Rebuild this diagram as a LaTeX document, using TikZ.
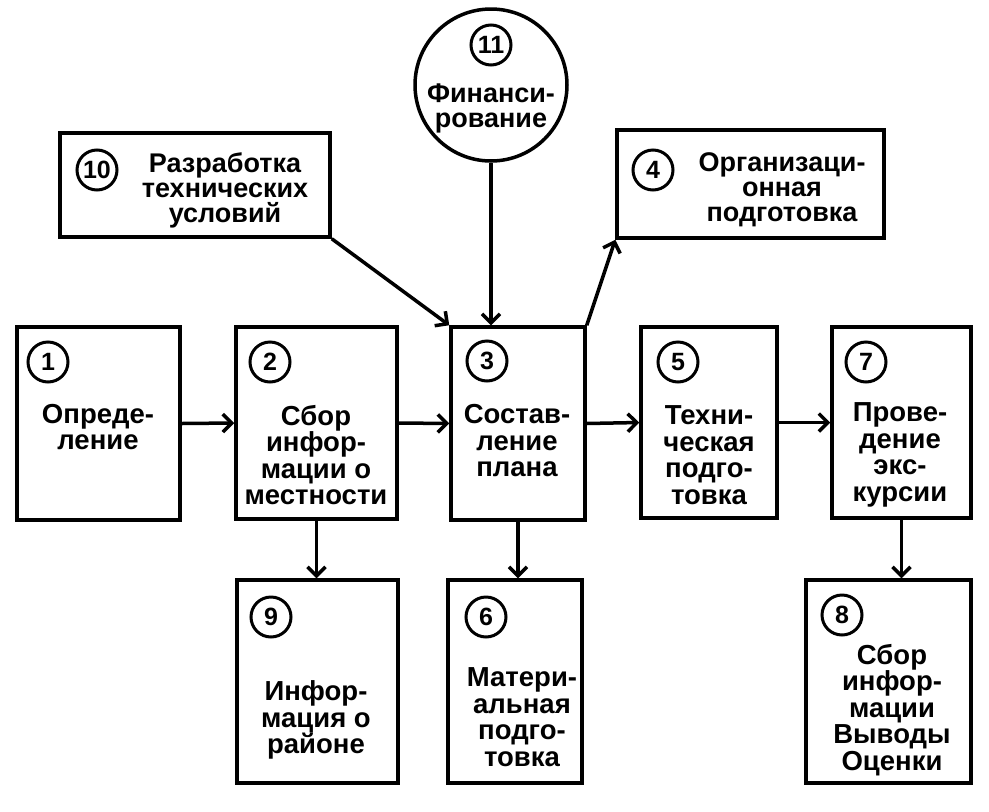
\documentclass[tikz,border=0pt]{standalone}
\usepackage{fontspec}
\setmainfont{Liberation Sans}
\usetikzlibrary{arrows.meta,calc}
\begin{document}
\begin{tikzpicture}[x=1pt,y=-1pt,
  box/.style={draw, line width=3.5pt, inner sep=0pt},
  num/.style={draw, circle, line width=3pt, minimum size=40pt, inner sep=0pt, font=\fontsize{25}{25}\selectfont\bfseries},
  lbl/.style={align=center, inner sep=0pt, font=\fontsize{27.5}{26.5}\selectfont\bfseries},
  lbltop/.style={align=center, inner sep=0pt, font=\fontsize{27}{25}\selectfont\bfseries},
  arr/.style={line width=3.5pt, -{Straight Barb[length=9pt,width=18pt]}}]
\useasboundingbox (0,0) rectangle (989,812);
% boxes
\node[box, minimum width=163pt, minimum height=193pt] (b1) at (98.5,423.5) {};
\node[box, minimum width=161pt, minimum height=192pt] (b2) at (316.5,423) {};
\node[box, minimum width=134pt, minimum height=193pt] (b3) at (518,423.5) {};
\node[box, minimum width=136pt, minimum height=191pt] (b5) at (709,422.5) {};
\node[box, minimum width=139pt, minimum height=191pt] (b7) at (901.5,422.5) {};
\node[box, minimum width=161pt, minimum height=203pt] (b9) at (317.5,681.5) {};
\node[box, minimum width=134pt, minimum height=203pt] (b6) at (515,681.5) {};
\node[box, minimum width=165pt, minimum height=203pt] (b8) at (888.5,681.5) {};
\node[box, minimum width=270pt, minimum height=104pt] (b10) at (195,185) {};
\node[box, minimum width=267pt, minimum height=108pt] (b4) at (750.5,184) {};
\node[draw, circle, line width=3.5pt, minimum size=152pt, inner sep=0pt] (c11) at (491,85) {};
% numbers
\node[num] (n1) at (48,362) {1};
\node[num] (n2) at (270,362) {2};
\node[num] (n3) at (487,361) {3};
\node[num] (n5) at (678,362) {5};
\node[num] (n7) at (866,362) {7};
\node[num] (n9) at (271,617) {9};
\node[num] (n6) at (486,617) {6};
\node[num] (n8) at (842,615) {8};
\node[num] (n10) at (97,170) {10};
\node[num] (n4) at (653,170) {4};
\node[num] (n11) at (491,45) {11};
% labels
\node[lbl] (t1) at (98,427) {Опреде-\\ление};
\node[lbl] (t2) at (316,455) {Сбор\\инфор-\\мации о\\местности};
\node[lbl] (t3) at (517,441) {Состав-\\ление\\плана};
\node[lbl] (t5) at (709,455) {Техни-\\ческая\\подго-\\товка};
\node[lbl] (t7) at (900,455) {Прове-\\дение\\экс-\\курсии};
\node[lbl] (t9) at (316,720) {Инфор-\\мация о\\районе};
\node[lbl] (t6) at (522,717) {Матери-\\альная\\подго-\\товка};
\node[lbl] (t8) at (892,710) {Сбор\\инфор-\\мации\\Выводы\\Оценки};
\node[lbltop] (t10) at (225,190) {Разработка\\технических\\условий};
\node[lbltop] (t4) at (782,190) {Организаци-\\онная\\подготовка};
\node[lbltop] (t11) at (491,108) {Финанси-\\рование};
% connectors
\draw[arr] (b1.east) -- (b2.west);
\draw[arr] (b2.east) -- (b3.west);
\draw[arr] (b3.east) -- (b5.west);
\draw[arr] (b5.east) -- (b7.west);
\draw[arr] (b2.south) -- (b2.south |- b9.north);
\draw[arr] (b3.south) -- (b3.south |- b6.north);
\draw[arr] (b7.south) -- (b7.south |- b8.north);
\draw[arr] (b10.south east) -- (b3.north west);
\draw[arr] (c11.south) -- (c11.south |- b3.north);
\draw[arr] (b3.north east) -- (b4.south west);
\end{tikzpicture}
\end{document}
